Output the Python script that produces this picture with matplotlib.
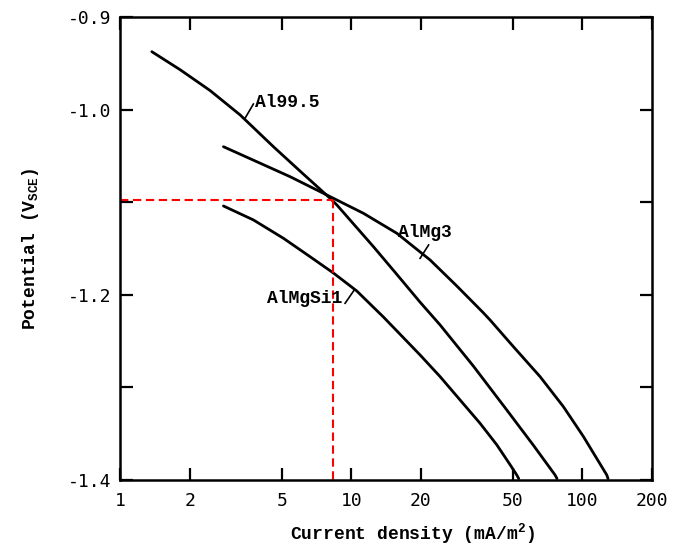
import numpy as np
import matplotlib
matplotlib.use("Agg")
from matplotlib import pyplot as plt
from matplotlib.ticker import FixedLocator, FixedFormatter, NullLocator

# curves (current density mA/m2, potential V_SCE)
al995_i = [1.371, 1.818, 2.451, 3.304, 4.603, 6.005, 8.096, 8.66, 12.46, 15.74,
           19.84, 24.22, 33.73, 47.05, 61.33, 76.1, 77.6]
al995_e = [-0.9375, -0.957, -0.9795, -1.0058, -1.0401, -1.0665, -1.0958, -1.103, -1.148, -1.178,
           -1.208, -1.2326, -1.277, -1.3244, -1.3625, -1.3946, -1.3985]

almg3_i = [2.798, 3.901, 5.437, 7.574, 11.28, 15.74, 21.92, 28.6, 37.27, 39.83,
           50.24, 65.56, 82.68, 100.9, 127.4, 129.0]
almg3_e = [-1.0401, -1.0563, -1.0725, -1.0904, -1.112, -1.1336, -1.1624, -1.1905, -1.2195, -1.2272,
           -1.256, -1.2884, -1.3208, -1.353, -1.3946, -1.3985]

almgsi1_i = [2.798, 3.772, 5.086, 6.633, 8.367, 10.56, 13.77, 19.84, 24.22, 29.55,
             36.06, 42.59, 48.63, 51.97, 53.0]
almgsi1_e = [-1.1041, -1.1192, -1.139, -1.1589, -1.1765, -1.1959, -1.224, -1.265, -1.2884, -1.3136,
             -1.3388, -1.362, -1.3835, -1.3946, -1.3985]

# red guide lines
guide_i = 8.3
guide_e = -1.098

xticks = [1, 2, 5, 10, 20, 50, 100, 200]
xticklabels = ['1', '2', '5', '10', '20', '50', '100', '200']
yticks = [-1.4, -1.3, -1.2, -1.1, -1.0, -0.9]
yticklabels = ['-1.4', '', '-1.2', '', '-1.0', '-0.9']

labfont = dict(family='Liberation Mono', weight='bold', size=13)
tickfont = dict(family='DejaVu Sans Mono', size=13)

fig = plt.figure(figsize=(6.75, 5.47), dpi=100)
ax = fig.add_axes([0.178, 0.1225, 0.788, 0.8465])

ax.plot(al995_i, al995_e, color='black', lw=2.0, solid_joinstyle='round', solid_capstyle='round')
ax.plot(almg3_i, almg3_e, color='black', lw=2.0, solid_joinstyle='round', solid_capstyle='round')
ax.plot(almgsi1_i, almgsi1_e, color='black', lw=2.0, solid_joinstyle='round', solid_capstyle='round')

ax.plot([1, guide_i], [guide_e, guide_e], color='red', lw=1.5, ls=(0, (4, 2.2)))
ax.plot([guide_i, guide_i], [guide_e, -1.4], color='red', lw=1.5, ls=(0, (4, 2.2)))

ax.set_xscale('log')
ax.set_xlim(1, 200)
ax.set_ylim(-1.4, -0.9)

ax.xaxis.set_major_locator(FixedLocator(xticks))
ax.xaxis.set_major_formatter(FixedFormatter(xticklabels))
ax.xaxis.set_minor_locator(NullLocator())
ax.yaxis.set_major_locator(FixedLocator(yticks))
ax.yaxis.set_major_formatter(FixedFormatter(yticklabels))

ax.tick_params(axis='both', which='major', direction='in', width=1.6, length=9,
               top=True, right=True)
ax.tick_params(axis='x', pad=9)
ax.tick_params(axis='y', pad=6)
for lab in ax.get_xticklabels() + ax.get_yticklabels():
    lab.set_fontfamily(tickfont['family'])
    lab.set_fontsize(tickfont['size'])
for s in ax.spines.values():
    s.set_linewidth(1.8)

ax.set_xlabel(r'Current density (mA/m$^{\mathregular{2}}$)', labelpad=8, x=0.549, **labfont)
ax.set_ylabel(r'Potential (V$_{\mathregular{SCE}}$)', labelpad=20, **labfont)

# curve labels with short leader lines
ax.text(3.84, -0.9969, 'Al99.5', va='baseline', ha='left', **labfont)
ax.plot([3.47, 3.77], [-1.0094, -0.994], color='black', lw=1.2)

ax.text(15.98, -1.1373, 'AlMg3', va='baseline', ha='left', **labfont)
ax.plot([19.84, 21.6], [-1.1606, -1.1462], color='black', lw=1.2)

ax.text(4.31, -1.2089, 'AlMgSi1', va='baseline', ha='left', **labfont)
ax.plot([9.40, 10.3], [-1.2092, -1.1948], color='black', lw=1.2)

plt.savefig('out.png', dpi=100)
